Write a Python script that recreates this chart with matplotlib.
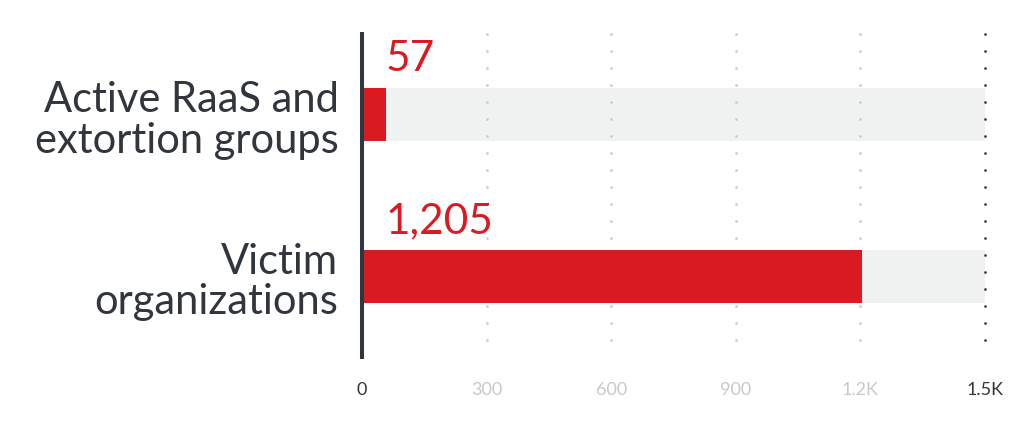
import matplotlib
matplotlib.use("Agg")
import matplotlib.pyplot as plt

categories = ["Active RaaS and\nextortion groups", "Victim\norganizations"]
values = [57, 1205]
value_labels = ["57", "1,205"]
xmax = 1500
xticks = [0, 300, 600, 900, 1200, 1500]
xtick_labels = ["0", "300", "600", "900", "1.2K", "1.5K"]

RED = "#d91a21"
BG = "#f0f1f1"
DARK = "#30363b"
LIGHT = "#c9c9c9"

plt.rcParams["font.family"] = ["Lato", "DejaVu Sans"]

fig = plt.figure(figsize=(10.35, 4.31), dpi=100)
ax = fig.add_axes([362/1035, 1-358/431, (985-362)/1035, (358-35)/431])

ypos = list(range(len(categories)))
bh = 53/161.5

# background bars
ax.barh(ypos, [xmax]*len(ypos), height=bh, color=BG, zorder=1)
# dotted gridlines
for xt in xticks[1:]:
    col = DARK if xt == xmax else LIGHT
    ax.vlines(xt, -0.5, 1.5, colors=col, linewidth=2.0,
              linestyles=(0, (0.01, 6.11)), capstyle="round", zorder=2,
              clip_on=False)
# value bars
ax.barh(ypos, values, height=bh, color=RED, zorder=3)
# axis line
ax.axvline(0, color=DARK, linewidth=2.9, zorder=4, clip_on=False)

for y, lab in zip(ypos, value_labels):
    ax.annotate(lab, xy=(0, y - bh/2), xytext=(24, 18), textcoords="offset pixels",
                ha="left", va="baseline", color=RED, fontsize=30.5)

ax.set_xlim(0, xmax)
ax.set_ylim(1.5, -0.5)
ax.set_yticks(ypos)
ax.set_yticklabels(categories, fontsize=30, color=DARK, linespacing=1.08)
ax.set_xticks(xticks)
ax.set_xticklabels(xtick_labels, fontsize=13)
for t, xt in zip(ax.get_xticklabels(), xticks):
    t.set_color(DARK if xt in (0, xmax) else LIGHT)
ax.tick_params(axis="y", length=0, pad=17)
ax.tick_params(axis="x", length=0, pad=17)
for s in ax.spines.values():
    s.set_visible(False)
ax.set_facecolor("white")

fig.savefig("out.png", dpi=100)
